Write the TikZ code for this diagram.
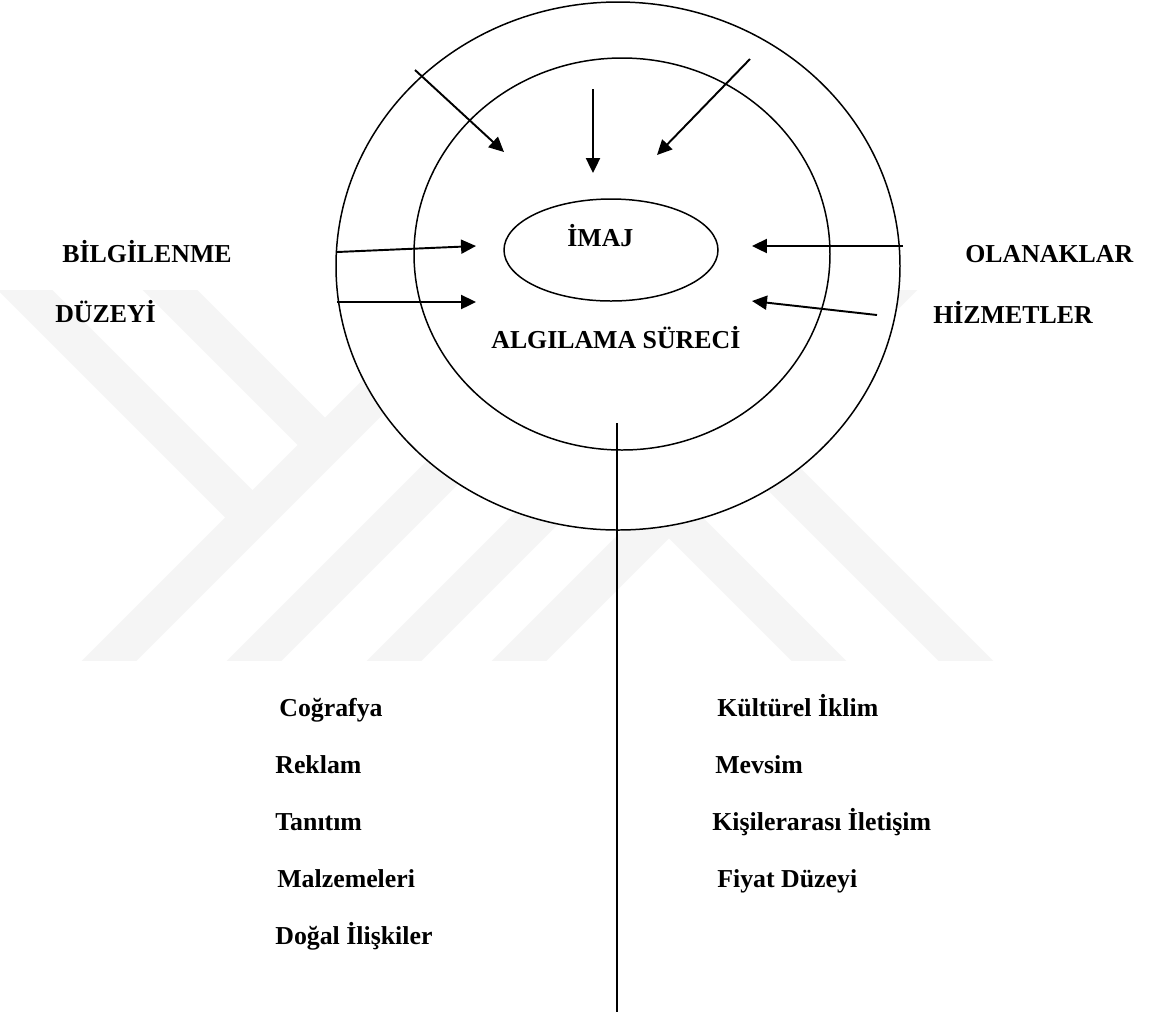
\documentclass[tikz,border=0pt]{standalone}
\usepackage{fontspec}
\setmainfont{Liberation Serif}
\usetikzlibrary{arrows.meta}

\begin{document}
\begin{tikzpicture}[x=0.02cm, y=-0.02cm,
        ok/.style={line width=1.1pt, -{Triangle[length=8.5pt,width=8pt]}},
        cizgi/.style={line width=0.85pt},
        iz/.style={line width=22pt, gray!8},
        etiket/.style={anchor=base west, inner sep=0pt,
            font=\fontsize{14.7pt}{17pt}\selectfont\bfseries}]
            \useasboundingbox (0,0) rectangle (1154,1019);
            % Arkadaki soluk filigran
            \begin{scope}
                \clip (0,290) rectangle (1154,660);
                \draw[iz] (60,710) -- (530,240);
                \draw[iz] (-20,245) -- (252.5,517.5);
                \draw[iz] (130,250) -- (325,445);
                \draw[iz] (205,710) -- (675,240);
                \draw[iz] (345,710) -- (815,240);
                \draw[iz] (470,710) -- (940,240);
                \draw[iz] (669,511) -- (868,710);
                \draw[iz] (1015,710) -- (545,240);
            \end{scope}
            % Elipsler
            \filldraw[cizgi, fill=white] (618,266) ellipse [x radius=282, y radius=264];
            \draw[cizgi] (622,254) ellipse [x radius=208, y radius=196];
            \draw[cizgi] (611,250) ellipse [x radius=107, y radius=51];
            % Okların uçları
            \coordinate (s1) at (415,70);
            \coordinate (t1) at (504,152);
            \coordinate (s2) at (593,89);
            \coordinate (t2) at (593,173);
            \coordinate (s3) at (750,59);
            \coordinate (t3) at (657,155);
            \coordinate (s4) at (337,252);
            \coordinate (t4) at (476,246);
            \coordinate (s5) at (337,302);
            \coordinate (t5) at (476,302);
            \coordinate (s6) at (903,246);
            \coordinate (t6) at (752,246);
            \coordinate (s7) at (877,315);
            \coordinate (t7) at (752,301);
            % Oklar
            \draw[ok] (s1) -- (t1);
            \draw[ok] (s2) -- (t2);
            \draw[ok] (s3) -- (t3);
            \draw[ok] (s4) -- (t4);
            \draw[ok] (s5) -- (t5);
            \draw[ok] (s6) -- (t6);
            \draw[ok] (s7) -- (t7);
            % Dikey çizgi
            \coordinate (ust) at (617,423);
            \coordinate (alt) at (617,1012);
            \draw[cizgi] (ust) -- (alt);
            % Etiketler
            \node[etiket] (imaj) at (567,246) {İMAJ};
            \node[etiket] (surec) at (491,348) {ALGILAMA SÜRECİ};
            \node[etiket] (bilgi) at (62,262) {BİLGİLENME};
            \node[etiket] (duzey) at (55,322) {DÜZEYİ};
            \node[etiket] (olanak) at (965,262) {OLANAKLAR};
            \node[etiket] (hizmet) at (933,323) {HİZMETLER};
            % Sol sütun
            \node[etiket] (cog) at (279,716) {Coğrafya};
            \node[etiket] (rek) at (275,773) {Reklam};
            \node[etiket] (tan) at (275,830) {Tanıtım};
            \node[etiket] (malz) at (277,887) {Malzemeleri};
            \node[etiket] (dogal) at (275,944) {Doğal İlişkiler};
            % Sağ sütun
            \node[etiket] (kult) at (717,716) {Kültürel İklim};
            \node[etiket] (mev) at (715,773) {Mevsim};
            \node[etiket] (kisi) at (712,830) {Kişilerarası İletişim};
            \node[etiket] (fiyat) at (717,887) {Fiyat Düzeyi};
        \end{tikzpicture}
\end{document}
